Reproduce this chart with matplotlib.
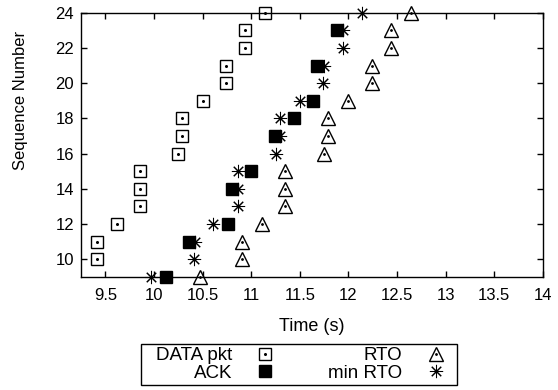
import matplotlib.pyplot as plt
from matplotlib.lines import Line2D
from matplotlib.patches import Rectangle

plt.rcParams['font.family'] = ['Liberation Sans', 'DejaVu Sans']
plt.rcParams['font.size'] = 12

data_seq = list(range(10, 25))
data_t = [9.41, 9.41, 9.62, 9.86, 9.86, 9.86, 10.25, 10.29, 10.29, 10.50,
          10.74, 10.74, 10.94, 10.94, 11.14]

ack_seq = [9, 11, 12, 14, 15, 17, 18, 19, 21, 23]
ack_t = [10.12, 10.36, 10.76, 10.80, 11.00, 11.24, 11.44, 11.64, 11.68, 11.88]

rto_seq = list(range(9, 25))
rto_t = [10.47, 10.91, 10.91, 11.11, 11.35, 11.35, 11.35, 11.75, 11.79, 11.79,
         11.99, 12.24, 12.24, 12.44, 12.44, 12.64]

minrto_seq = list(range(9, 25))
minrto_t = [9.97, 10.41, 10.42, 10.61, 10.86, 10.86, 10.86, 11.25, 11.30, 11.30,
            11.50, 11.74, 11.75, 11.94, 11.94, 12.14]

xticks = [9.5, 10, 10.5, 11, 11.5, 12, 12.5, 13, 13.5, 14]
xticklabels = ['9.5', '10', '10.5', '11', '11.5', '12', '12.5', '13', '13.5', '14']
yticks = [10, 12, 14, 16, 18, 20, 22, 24]

fig = plt.figure(figsize=(5.58, 3.9), dpi=100)
ax = fig.add_axes([0.1452, 0.2905, 0.8279, 0.6769])

star = (8, 2, 0)
ax.plot(data_t, data_seq, ls='none', marker='s', ms=8.5, mfc='none', mec='black',
        mew=1.0, clip_on=False, zorder=3)
ax.plot(data_t, data_seq, ls='none', marker='o', ms=1.2, color='black',
        clip_on=False, zorder=3)
ax.plot(rto_t, rto_seq, ls='none', marker='^', ms=9.5, mfc='none', mec='black',
        mew=1.0, clip_on=False, zorder=3)
ax.plot(rto_t, rto_seq, ls='none', marker='o', ms=1.0, color='black',
        clip_on=False, zorder=3)
ax.plot(minrto_t, minrto_seq, ls='none', marker=star, ms=9.5, color='black',
        mew=0.75, clip_on=False, zorder=3)
ax.plot(ack_t, ack_seq, ls='none', marker='s', ms=9, color='black',
        clip_on=False, zorder=4)

ax.set_xlim(9.25, 14)
ax.set_ylim(9, 24)
ax.set_xticks(xticks)
ax.set_xticklabels(xticklabels)
ax.set_yticks(yticks)
ax.tick_params(direction='in', length=4, width=1, top=True, right=True)
ax.tick_params(axis='x', pad=8)
ax.tick_params(axis='y', pad=5)
for s in ax.spines.values():
    s.set_linewidth(1.0)

ax.set_xlabel('Time (s)', fontsize=13)
ax.set_ylabel('Sequence Number', fontsize=12)
ax.xaxis.set_label_coords(0.5, -0.155)
ax.yaxis.set_label_coords(-0.115, 0.669)

h_data = (Line2D([], [], ls='none', marker='s', ms=8, mfc='none', mec='black', mew=1.0),
          Line2D([], [], ls='none', marker='o', ms=1.2, color='black'))
h_ack = Line2D([], [], ls='none', marker='s', ms=9, color='black')
h_rto = (Line2D([], [], ls='none', marker='^', ms=9.5, mfc='none', mec='black', mew=1.0),
         Line2D([], [], ls='none', marker='o', ms=1.0, color='black'))
h_min = Line2D([], [], ls='none', marker=star, ms=9.5, color='black', mew=0.75)

leg = fig.legend([h_data, h_ack, h_rto, h_min], ['DATA pkt', 'ACK', 'RTO', 'min RTO'],
                 ncol=2, markerfirst=False, loc='center', fontsize=13.5,
                 bbox_to_anchor=(301.5 / 558, 1 - 364.5 / 390),
                 frameon=False, borderpad=0, labelspacing=0.0,
                 handlelength=1.2, handletextpad=1.16, columnspacing=2.76,
                 borderaxespad=0)

# legend frame box
fig.add_artist(Rectangle((141 / 558, 1 - 385 / 390), 316 / 558, 41 / 390,
                         transform=fig.transFigure, fill=False,
                         edgecolor='black', linewidth=1.0))

plt.savefig('out.png', dpi=100)
